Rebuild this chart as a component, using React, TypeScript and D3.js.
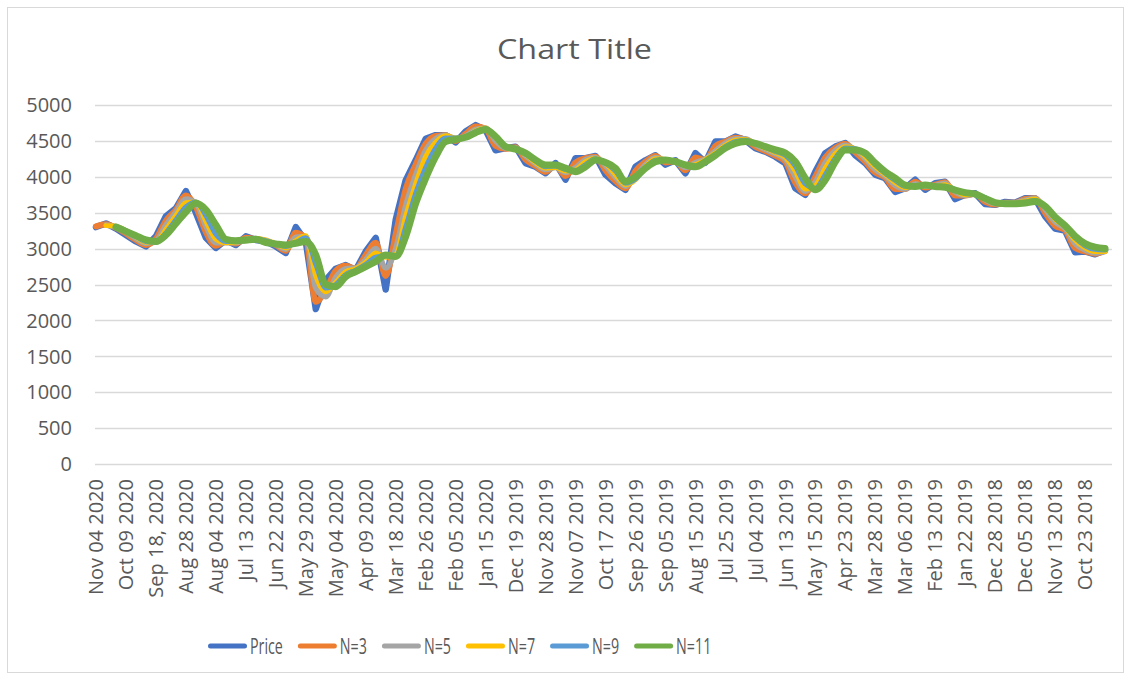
import React, { useEffect, useRef } from "react";
import * as d3 from "d3";

// category labels on the x axis (one label every 15 trading days, newest first)
const xLabels = [
  "Nov 04 2020", "Oct 09 2020", "Sep 18, 2020", "Aug 28 2020", "Aug 04 2020", "Jul 13 2020",
  "Jun 22 2020", "May 29 2020", "May 04 2020", "Apr 09 2020", "Mar 18 2020", "Feb 26 2020",
  "Feb 05 2020", "Jan 15 2020", "Dec 19 2019", "Nov 28 2019", "Nov 07 2019", "Oct 17 2019",
  "Sep 26 2019", "Sep 05 2019", "Aug 15 2019", "Jul 25 2019", "Jul 04 2019", "Jun 13 2019",
  "May 15 2019", "Apr 23 2019", "Mar 28 2019", "Mar 06 2019", "Feb 13 2019", "Jan 22 2019",
  "Dec 28 2018", "Dec 05 2018", "Nov 13 2018", "Oct 23 2018",
];
const yTicks = [0, 500, 1000, 1500, 2000, 2500, 3000, 3500, 4000, 4500, 5000];

const dayCount = 509; // number of categories on the axis
const labelEvery = 15;
const sampleEvery = 5; // values below are read every 5th category

const price = [
  3300, 3350, 3280, 3190, 3100, 3030, 3170, 3450, 3560, 3800,
  3500, 3150, 3010, 3120, 3050, 3170, 3120, 3100, 3030, 2940,
  3300, 3100, 2160, 2560, 2720, 2770, 2700, 2960, 3150, 2430,
  3400, 3950, 4230, 4530, 4580, 4580, 4480, 4630, 4720, 4650,
  4370, 4400, 4420, 4190, 4140, 4050, 4190, 3960, 4260, 4260,
  4290, 4030, 3910, 3820, 4140, 4230, 4300, 4170, 4230, 4050,
  4330, 4200, 4490, 4490, 4560, 4510, 4400, 4350, 4280, 4190,
  3840, 3750, 4070, 4330, 4420, 4470, 4300, 4190, 4030, 3980,
  3790, 3840, 3960, 3820, 3910, 3930, 3690, 3750, 3770, 3620,
  3610, 3650, 3640, 3700, 3700, 3450, 3280, 3250, 2950, 2960,
  2920, 2980,
];
const n3 = [
  3310, 3340, 3290, 3210, 3120, 3050, 3140, 3390, 3540, 3740,
  3580, 3230, 3040, 3100, 3070, 3150, 3130, 3100, 3050, 2970,
  3220, 3140, 2260, 2420, 2690, 2760, 2720, 2910, 3080, 2620,
  3200, 3830, 4170, 4460, 4570, 4580, 4500, 4600, 4700, 4670,
  4430, 4390, 4410, 4240, 4150, 4070, 4160, 4010, 4200, 4260,
  4280, 4090, 3940, 3840, 4080, 4210, 4290, 4200, 4220, 4090,
  4270, 4230, 4430, 4490, 4545, 4520, 4420, 4360, 4295, 4210,
  3920, 3770, 4000, 4270, 4400, 4460, 4340, 4210, 4060, 3990,
  3830, 3830, 3930, 3850, 3890, 3925, 3740, 3740, 3765, 3650,
  3615, 3640, 3640, 3690, 3700, 3500, 3320, 3260, 3010, 2960,
  2930, 2970,
];
const n5 = [
  null, 3330, 3300, 3230, 3140, 3070, 3110, 3330, 3510, 3690,
  3630, 3310, 3080, 3080, 3080, 3130, 3140, 3110, 3060, 2990,
  3160, 3170, 2450, 2330, 2600, 2720, 2730, 2850, 3000, 2730,
  3000, 3600, 4030, 4370, 4530, 4580, 4530, 4570, 4660, 4680,
  4500, 4400, 4400, 4290, 4180, 4100, 4130, 4060, 4130, 4240,
  4270, 4150, 3990, 3870, 4000, 4170, 4270, 4230, 4210, 4130,
  4200, 4250, 4360, 4470, 4530, 4530, 4450, 4380, 4320, 4240,
  4000, 3800, 3930, 4200, 4370, 4440, 4380, 4250, 4100, 4010,
  3880, 3830, 3900, 3870, 3880, 3910, 3790, 3740, 3760, 3680,
  3625, 3635, 3640, 3675, 3700, 3550, 3370, 3280, 3070, 2980,
  2940, 2960,
];
const n7 = [
  null, 3320, 3310, 3250, 3160, 3090, 3090, 3270, 3460, 3640,
  3650, 3380, 3130, 3080, 3090, 3110, 3140, 3120, 3070, 3010,
  3110, 3180, 2620, 2400, 2530, 2680, 2720, 2810, 2940, 2880,
  2920, 3450, 3900, 4280, 4480, 4570, 4540, 4560, 4640, 4680,
  4540, 4420, 4400, 4310, 4200, 4120, 4130, 4080, 4100, 4210,
  4260, 4180, 4030, 3890, 3960, 4140, 4250, 4240, 4210, 4150,
  4170, 4240, 4330, 4440, 4510, 4520, 4460, 4400, 4340, 4270,
  4080, 3830, 3880, 4120, 4320, 4420, 4390, 4280, 4140, 4030,
  3920, 3850, 3880, 3880, 3870, 3890, 3810, 3750, 3755, 3700,
  3635, 3630, 3635, 3660, 3690, 3580, 3410, 3300, 3120, 3010,
  2960, 2960,
];
const n9 = [
  null, null, 3310, 3250, 3170, 3100, 3090, 3220, 3400, 3580,
  3650, 3460, 3200, 3100, 3100, 3110, 3130, 3110, 3070, 3030,
  3080, 3150, 2780, 2450, 2500, 2640, 2700, 2780, 2880, 2900,
  2900, 3300, 3770, 4130, 4400, 4540, 4540, 4560, 4630, 4670,
  4560, 4430, 4395, 4320, 4220, 4140, 4150, 4100, 4090, 4170,
  4250, 4190, 4080, 3910, 3970, 4120, 4230, 4240, 4210, 4160,
  4150, 4220, 4310, 4420, 4490, 4510, 4465, 4410, 4355, 4300,
  4150, 3900, 3840, 4030, 4260, 4400, 4390, 4310, 4170, 4050,
  3950, 3870, 3870, 3885, 3870, 3870, 3820, 3770, 3755, 3710,
  3640, 3625, 3630, 3645, 3670, 3590, 3430, 3310, 3150, 3040,
  2990, 2980,
];
const n11 = [
  null, null, 3300, 3240, 3180, 3120, 3100, 3190, 3350, 3510,
  3630, 3540, 3330, 3130, 3110, 3120, 3130, 3085, 3065, 3050,
  3075, 3100, 2910, 2500, 2470, 2610, 2680, 2750, 2820, 2910,
  2890, 3170, 3630, 3980, 4280, 4490, 4520, 4550, 4615, 4660,
  4560, 4420, 4385, 4330, 4235, 4165, 4165, 4120, 4070, 4140,
  4235, 4200, 4120, 3935, 4000, 4120, 4210, 4235, 4210, 4165,
  4140, 4210, 4300, 4400, 4465, 4490, 4465, 4420, 4375, 4330,
  4210, 3980, 3820, 3955, 4210, 4375, 4375, 4330, 4190, 4070,
  3980, 3885, 3865, 3885, 3865, 3855, 3815, 3780, 3760, 3700,
  3640, 3625, 3625, 3635, 3655, 3590, 3440, 3320, 3175, 3070,
  3020, 3000,
];

const seriesNames = ["Price", "N=3", "N=5", "N=7", "N=9", "N=11"];
const seriesValues = [price, n3, n5, n7, n9, n11];
const seriesColors = ["#4472C4", "#ED7D31", "#A5A5A5", "#FFC000", "#5B9BD5", "#70AD47"];
const seriesWidths = [6.5, 6, 5.5, 5, 5, 7];

const FONT = "'Open Sans', 'Noto Sans', sans-serif";
const TEXT = "#595959";
const GRID = "#d9d9d9";

function renderChart(el: SVGSVGElement) {
  const svg = d3.select(el);
  svg.selectAll("*").remove();

  const left = 95;
  const right = 1112;
  const top = 105;
  const bottom = 464;

  const x = d3.scaleLinear().domain([0, dayCount]).range([left, right]);
  const catX = (i: number) => x(i + 0.5);
  const y = d3.scaleLinear().domain([0, 5000]).range([bottom, top]);

  // chart area
  svg
    .append("rect")
    .attr("x", 7.5)
    .attr("y", 7.5)
    .attr("width", 1116)
    .attr("height", 665)
    .attr("fill", "#fff")
    .attr("stroke", GRID);

  svg
    .append("text")
    .attr("x", 574.5)
    .attr("y", 59)
    .attr("text-anchor", "middle")
    .attr("font-family", FONT)
    .attr("font-size", 27)
    .attr("fill", TEXT)
    .attr("textLength", 155)
    .attr("lengthAdjust", "spacingAndGlyphs")
    .text("Chart Title");

  // horizontal gridlines
  svg
    .append("g")
    .selectAll("line")
    .data(yTicks)
    .join("line")
    .attr("x1", left)
    .attr("x2", right)
    .attr("y1", (d) => Math.round(y(d)) + 0.5)
    .attr("y2", (d) => Math.round(y(d)) + 0.5)
    .attr("stroke", GRID)
    .attr("stroke-width", 1.3);

  svg
    .append("g")
    .selectAll("text")
    .data(yTicks)
    .join("text")
    .attr("x", 72)
    .attr("y", (d) => y(d))
    .attr("dy", "0.36em")
    .attr("text-anchor", "end")
    .attr("font-family", FONT)
    .attr("font-size", 20)
    .attr("fill", TEXT)
    .text((d) => d);

  // rotated category labels
  svg
    .append("g")
    .selectAll("text")
    .data(xLabels)
    .join("text")
    .attr("transform", (d, i) => `translate(${catX(i * labelEvery)},479) rotate(-90)`)
    .attr("dy", "0.36em")
    .attr("text-anchor", "end")
    .attr("font-family", FONT)
    .attr("font-size", 20)
    .attr("fill", TEXT)
    .text((d) => d);

  // series lines, Price first so N=11 ends up on top
  seriesValues.forEach((vals, si) => {
    const pts = vals.map((v, k) => ({ day: k * sampleEvery, v }));
    const line = d3
      .line<{ day: number; v: number | null }>()
      .defined((d) => d.v != null)
      .x((d) => catX(d.day))
      .y((d) => y(d.v as number))
      .curve(si === 0 ? d3.curveLinear : d3.curveMonotoneX);
    svg
      .append("path")
      .datum(pts)
      .attr("d", line)
      .attr("fill", "none")
      .attr("stroke", seriesColors[si])
      .attr("stroke-width", seriesWidths[si])
      .attr("stroke-linejoin", "round")
      .attr("stroke-linecap", "round");
  });

  // legend
  const legend = svg.append("g");
  let lx = 208;
  const ly = 646;
  const squeeze = 0.68;
  seriesNames.forEach((name, i) => {
    legend
      .append("line")
      .attr("x1", lx + 2.5)
      .attr("x2", lx + 36.5)
      .attr("y1", ly)
      .attr("y2", ly)
      .attr("stroke", seriesColors[i])
      .attr("stroke-width", 5)
      .attr("stroke-linecap", "round");
    const t = legend
      .append("text")
      .attr("transform", `translate(${lx + 42},${ly}) scale(${squeeze},1)`)
      .attr("dy", "0.36em")
      .attr("font-family", FONT)
      .attr("font-size", 21)
      .attr("fill", TEXT)
      .text(name);
    const w = (t.node() as SVGTextElement).getComputedTextLength() * squeeze;
    lx += 42 + w + 15;
  });
}

export default function App() {
  const ref = useRef<SVGSVGElement>(null);
  useEffect(() => {
    document.body.style.margin = "0";
    if (ref.current) renderChart(ref.current);
  }, []);
  return <svg ref={ref} width={1131} height={680} style={{ display: "block", background: "#fff" }} />;
}
